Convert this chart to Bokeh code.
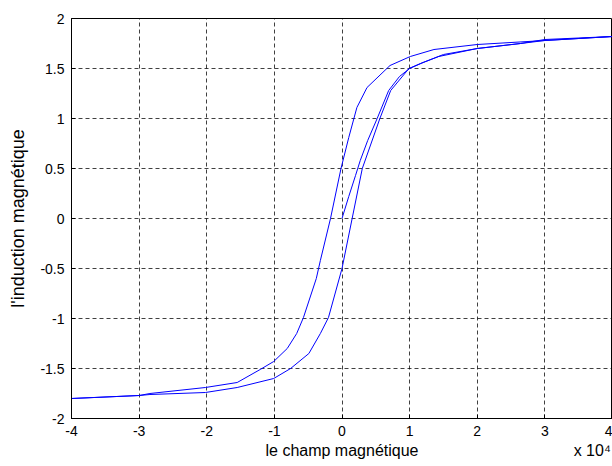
import math
from bokeh.plotting import figure
from bokeh.models import FixedTicker, LinearAxis, Range1d
from bokeh.embed import file_html
from bokeh.resources import INLINE

# Field H (x 10^4) and induction B
x_ticks = [-4, -3, -2, -1, 0, 1, 2, 3, 4]
x_tick_labels = ["-4", "-3", "-2", "-1", "0", "1", "2", "3", "4"]
y_ticks = [-2, -1.5, -1, -0.5, 0, 0.5, 1, 1.5, 2]
y_tick_labels = ["-2", "-1.5", "-1", "-0.5", "0", "0.5", "1", "1.5", "2"]
x_title = "le champ magnétique"
y_title = "l'induction magnétique"
x_scale_note = "x 10\u2074"

# initial magnetization curve
h_init = [0, 0.1, 0.2, 0.27, 0.38, 0.52, 0.69, 0.85, 1.0, 1.2, 1.5, 2.0, 2.64, 3.0, 4.0]
b_init = [0, 0.22, 0.43, 0.58, 0.78, 1.0, 1.28, 1.42, 1.5, 1.56, 1.64, 1.70, 1.75, 1.78, 1.82]

# ascending branch
h_up = [-4, -3, -2.84, -2.02, -1.55, -1.01, -0.76, -0.49, -0.32, -0.2, 0, 0.15, 0.30,
        0.56, 0.72, 0.99, 1.16, 1.43, 2.0, 2.64, 3.0, 4.0]
b_up = [-1.80, -1.77, -1.76, -1.74, -1.69, -1.60, -1.50, -1.35, -1.15, -0.99, -0.5, 0, 0.5,
        1.0, 1.28, 1.5, 1.55, 1.62, 1.70, 1.75, 1.79, 1.82]

# descending branch
h_down = [4.0, 3.0, 2.0, 1.36, 1.01, 0.71, 0.37, 0.22, 0.10, -0.015, -0.17, -0.32, -0.38,
          -0.57, -0.67, -0.81, -1.01, -1.21, -1.55, -2.02, -2.84, -3.0, -4.0]
b_down = [1.82, 1.78, 1.74, 1.69, 1.62, 1.53, 1.31, 1.11, 0.81, 0.5, 0, -0.42, -0.6,
          -0.99, -1.15, -1.30, -1.43, -1.51, -1.64, -1.69, -1.75, -1.77, -1.80]

FONT = "Liberation Sans"

p = figure(width=612, height=466, x_range=Range1d(-4, 4), y_range=Range1d(-2, 2),
           output_backend="svg", toolbar_location=None,
           min_border_left=71, min_border_right=0, min_border_top=18, min_border_bottom=48)
p.background_fill_color = "white"
p.border_fill_color = "white"
p.outline_line_color = "black"
p.outline_line_width = 1

xax = p.xaxis[0]
yax = p.yaxis[0]
for ax in (xax, yax):
    ax.major_tick_in = 4
    ax.major_tick_out = 0
    ax.minor_tick_in = 0
    ax.minor_tick_out = 0
    ax.axis_line_color = "black"
    ax.major_tick_line_color = "black"
    ax.major_label_text_font = FONT
    ax.major_label_text_font_size = "14px"
    ax.major_label_text_color = "black"
    ax.major_label_standoff = 7

xax.ticker = FixedTicker(ticks=x_ticks)
yax.ticker = FixedTicker(ticks=y_ticks)
xax.major_label_overrides = {t: l for t, l in zip(x_ticks, x_tick_labels)}
yax.major_label_overrides = {t: l for t, l in zip(y_ticks, y_tick_labels)}

yax.axis_label = y_title
yax.axis_label_standoff = 9
yax.axis_label_text_font = FONT
yax.axis_label_text_font_size = "18px"
yax.axis_label_text_font_style = "normal"
yax.axis_label_text_color = "black"

# second bottom axis carrying the x title and the scale note
note_pos = 3.70
xax2 = LinearAxis(ticker=FixedTicker(ticks=[0, note_pos]),
                  major_label_overrides={0: x_title, note_pos: x_scale_note})
xax2.axis_line_color = None
xax2.major_tick_line_color = None
xax2.minor_tick_line_color = None
xax2.major_tick_out = 0
xax2.major_tick_in = 0
xax2.major_label_standoff = 3
xax2.major_label_text_font = FONT
xax2.major_label_text_font_size = "16px"
xax2.major_label_text_color = "black"
p.add_layout(xax2, "below")

p.xgrid.ticker = FixedTicker(ticks=x_ticks)
p.ygrid.ticker = FixedTicker(ticks=y_ticks)
for g in (p.xgrid, p.ygrid):
    g.grid_line_color = "black"
    g.grid_line_alpha = 0.75
    g.grid_line_dash = "4 3"
    g.grid_line_width = 1

p.line(h_down, b_down, line_color="#0000ff", line_width=1)
p.line(h_up, b_up, line_color="#0000ff", line_width=1)
p.line(h_init, b_init, line_color="#0000ff", line_width=1)

open("out.html", "w").write(file_html(p, INLINE))
